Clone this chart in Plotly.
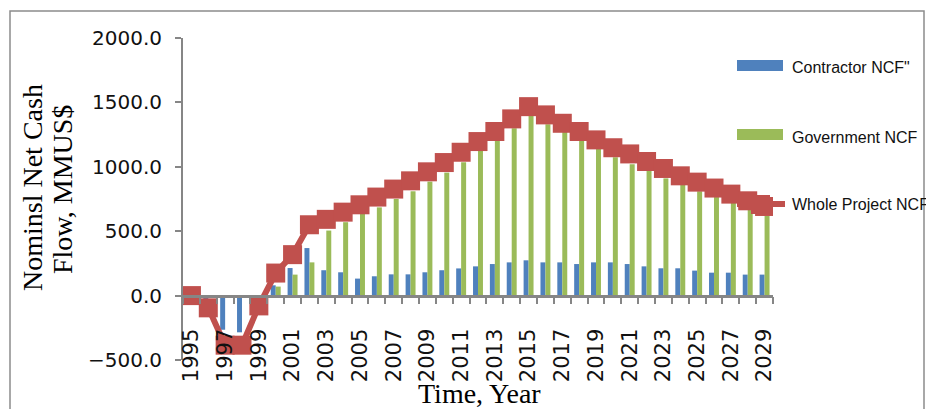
import plotly.graph_objects as go

years = list(range(1995, 2030))
contractor = [0, -50, -265, -285, -60, 80, 214, 369, 197, 181, 132, 150, 165, 165, 181, 197,
              211, 227, 245, 258, 274, 258, 258, 245, 258, 258, 245, 227, 212, 212, 194, 178,
              178, 163, 163]
government = [0, 0, 0, 0, 0, 70, 163, 258, 505, 570, 635, 685, 750, 810, 885, 955,
              1035, 1125, 1205, 1300, 1395, 1330, 1270, 1205, 1140, 1075, 1020, 970, 910, 860, 810, 765,
              720, 665, 620]
whole = [0, -95, -385, -385, -80, 175, 318, 550, 592, 648, 705, 765, 827, 891, 961, 1033,
         1113, 1196, 1274, 1372, 1467, 1403, 1338, 1274, 1209, 1148, 1100, 1041, 987, 930, 881, 835,
         788, 736, 692]
tick_years = years[::2]
tick_text = [str(y) for y in tick_years]
y_ticks = [-500, 0, 500, 1000, 1500, 2000]
series_names = ['Contractor NCF"', 'Government NCF', 'Whole Project NCF']

BLUE, GREEN, RED = '#4F81BD', '#9BBB59', '#C0504D'
AXIS = '#868686'

# page body has an 8px default margin: figure is placed at (8, 8) on screen
OFF = 8
SW, SH = 934, 409
W, H = SW - OFF, SH - OFF
# plot area in screen pixels
L, R, T, B = 183, 773, 38, 360


def px(x):
    return (x - L) / (R - L)


def py(y):
    return (B - y) / (B - T)


fig = go.Figure()
fig.add_bar(x=years, y=contractor, name=series_names[0], marker_color=BLUE, marker_line_width=0)
fig.add_bar(x=years, y=government, name=series_names[1], marker_color=GREEN, marker_line_width=0)
fig.add_scatter(x=years, y=whole, name=series_names[2], mode='lines+markers',
                line=dict(color=RED, width=6),
                marker=dict(symbol='square', size=19, color=RED, line=dict(width=0)))

fig.update_layout(
    width=W, height=H, autosize=False,
    margin=dict(l=L - OFF, r=SW - R, t=T - OFF, b=SH - B, pad=0),
    paper_bgcolor='white', plot_bgcolor='white',
    showlegend=False,
    barmode='group', bargap=0.41, bargroupgap=0,
    xaxis=dict(
        type='linear', range=[1994.5, 2029.5],
        anchor='free', position=0.2,
        showline=True, linecolor=AXIS, linewidth=2.5,
        tickmode='array', tickvals=tick_years, ticktext=tick_text,
        tickangle=-90, ticks='', showgrid=False, zeroline=False,
        tickfont=dict(family='DejaVu Sans', size=21, color='#111111'), ticklabelstandoff=23,
        minor=dict(ticks='outside', tick0=1994.5, dtick=1, ticklen=7,
                   tickcolor=AXIS, tickwidth=1.5, showgrid=False),
    ),
    yaxis=dict(
        range=[-500, 2000], tickmode='array', tickvals=y_ticks, tickformat='.1f',
        showline=True, linecolor=AXIS, linewidth=2,
        ticks='outside', ticklen=6, tickcolor=AXIS, tickwidth=1.5,
        showgrid=False, zeroline=False,
        tickfont=dict(family='DejaVu Sans', size=20, color='#111111'), ticklabelstandoff=9,
    ),
)

shapes = [
    dict(type='rect', xref='paper', yref='paper', x0=px(10), x1=px(924), y0=py(11), y1=py(430),
         line=dict(color='#8C8C8C', width=1.5), fillcolor='rgba(0,0,0,0)', layer='below'),
    dict(type='rect', xref='paper', yref='paper', x0=px(737), x1=px(783), y0=py(60), y1=py(71),
         line=dict(width=0), fillcolor=BLUE, layer='above'),
    dict(type='rect', xref='paper', yref='paper', x0=px(737), x1=px(783), y0=py(129), y1=py(140),
         line=dict(width=0), fillcolor=GREEN, layer='above'),
    dict(type='line', xref='paper', yref='paper', x0=px(737), x1=px(785), y0=py(204), y1=py(204),
         line=dict(color=RED, width=6), layer='above'),
    dict(type='rect', xref='paper', yref='paper', x0=px(751), x1=px(770), y0=py(195), y1=py(214),
         line=dict(width=0), fillcolor=RED, layer='above'),
]
fig.update_layout(shapes=shapes)

leg_font = dict(family='Liberation Sans', size=16, color='#111111')
serif = dict(family='Liberation Serif', size=28, color='#000000')
annotations = [
    dict(text=series_names[0], x=px(790), y=py(68), xanchor='left', yanchor='middle', font=leg_font),
    dict(text=series_names[1], x=px(790), y=py(137), xanchor='left', yanchor='middle', font=leg_font),
    dict(text=series_names[2], x=px(790), y=py(205), xanchor='left', yanchor='middle', font=leg_font),
    dict(text='Nominsl Net Cash', x=px(32), y=py(188), textangle=-90, xanchor='center', yanchor='middle', font=serif),
    dict(text='Flow, MMUS$', x=px(62), y=py(190), textangle=-90, xanchor='center', yanchor='middle', font=serif),
    dict(text='Time, Year', x=px(480), y=py(393), xanchor='center', yanchor='middle', font=serif),
]
for a in annotations:
    a.update(xref='paper', yref='paper', showarrow=False)
fig.update_layout(annotations=annotations)

fig.write_html('out.html', config={'displayModeBar': False})
